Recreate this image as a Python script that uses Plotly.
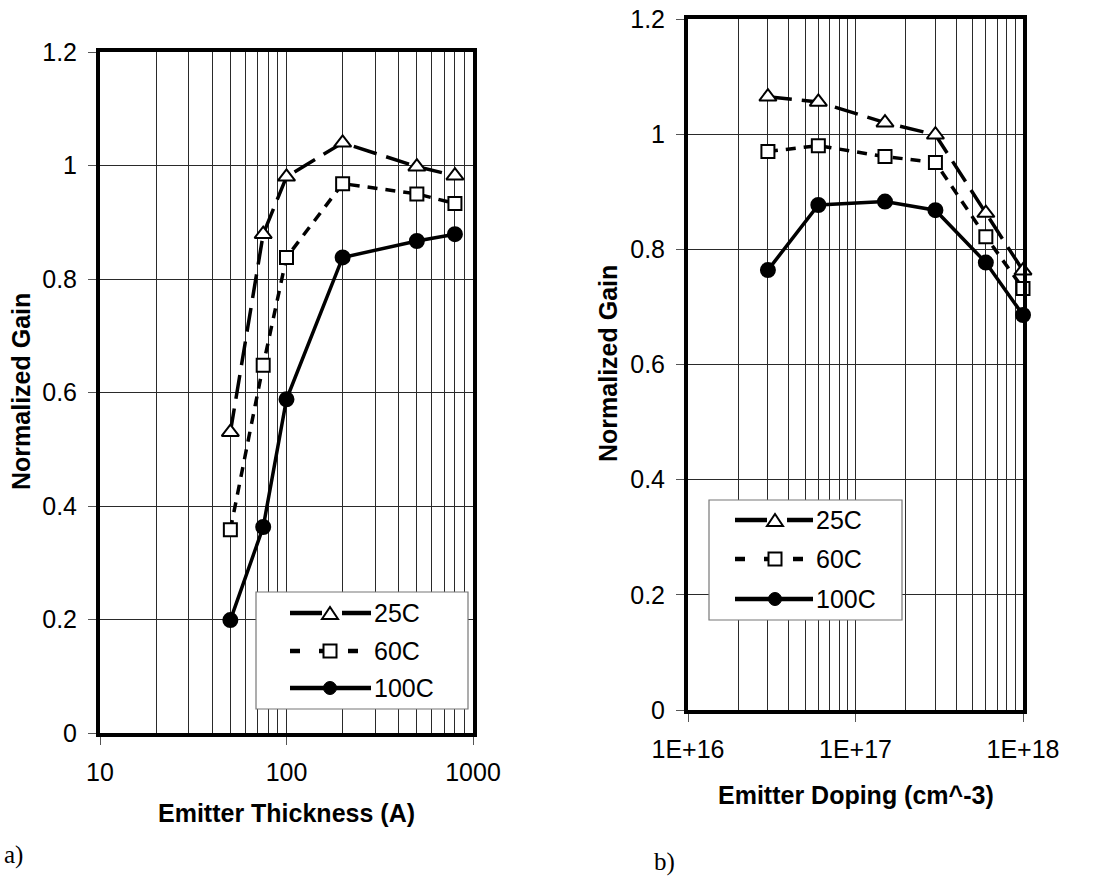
import plotly.graph_objects as go

# ---------------- data ----------------
thickness = [50, 75, 100, 200, 500, 800]
gain_a_25 = [0.530, 0.879, 0.980, 1.040, 0.998, 0.982]
gain_a_60 = [0.358, 0.648, 0.838, 0.968, 0.950, 0.933]
gain_a_100 = [0.199, 0.363, 0.588, 0.838, 0.867, 0.879]

doping = [3e16, 6e16, 1.5e17, 3e17, 6e17, 1e18]
gain_b_25 = [1.065, 1.056, 1.020, 0.999, 0.863, 0.763]
gain_b_60 = [0.970, 0.980, 0.961, 0.951, 0.822, 0.732]
gain_b_100 = [0.764, 0.877, 0.883, 0.868, 0.777, 0.686]

series_names = ["25C", "60C", "100C"]
y_tickvals = [0, 0.2, 0.4, 0.6, 0.8, 1.0, 1.2]
y_ticktext = ["0", "0.2", "0.4", "0.6", "0.8", "1", "1.2"]
a_xtickvals = [10, 100, 1000]
a_xticktext = ["10", "100", "1000"]
b_xtickvals = [1e16, 1e17, 1e18]
b_xticktext = ["1E+16", "1E+17", "1E+18"]

# ---------------- styles ----------------
W, H = 1096, 878
FONT = "Liberation Sans, Arial, sans-serif"
styles = {
    "25C": dict(dash="24px,10px", symbol="triangle-up", size=15, fill="white"),
    "60C": dict(dash="10px,8px", symbol="square", size=13, fill="white"),
    "100C": dict(dash="solid", symbol="circle", size=14, fill="black"),
}


def px(x):
    return x / W


def py(y):
    return 1 - y / H


fig = go.Figure()

panels = [
    ("x", "y", thickness, [gain_a_25, gain_a_60, gain_a_100]),
    ("x2", "y2", doping, [gain_b_25, gain_b_60, gain_b_100]),
]
for xa, ya, xs, ys_list in panels:
    for name, ys in zip(series_names, ys_list):
        st = styles[name]
        fig.add_trace(go.Scatter(
            x=xs, y=ys, xaxis=xa, yaxis=ya, name=name, mode="lines+markers",
            showlegend=False, cliponaxis=False,
            line=dict(color="black", width=3.5, dash=st["dash"]),
            marker=dict(symbol=st["symbol"], size=st["size"], color=st["fill"],
                        line=dict(color="black", width=2)),
        ))

grid_col = "#2a2a2a"
a_minor = [m * 10 ** e for e in (1, 2) for m in range(2, 10)]
b_minor = [m * 10 ** e for e in (16, 17) for m in range(2, 10)]

common_x = dict(type="log", showline=True, linewidth=4, linecolor="black", mirror=True,
                ticks="outside", ticklen=8, tickcolor="#555", tickwidth=1, automargin=False,
                showgrid=True, gridcolor=grid_col, gridwidth=1, zeroline=False,
                ticklabeloverflow="allow",
                tickfont=dict(family=FONT, size=25, color="black"), ticklabelstandoff=6)
common_y = dict(range=[0, 1.2], tickvals=y_tickvals, ticktext=y_ticktext, automargin=False,
                showline=True, linewidth=4, linecolor="black", mirror=True,
                ticks="outside", ticklen=8, tickcolor="#555", tickwidth=1,
                showgrid=True, gridcolor=grid_col, gridwidth=1, zeroline=False,
                ticklabeloverflow="allow",
                tickfont=dict(family=FONT, size=25, color="black"), ticklabelstandoff=6)

fig.update_layout(
    width=W, height=H, margin=dict(l=0, r=0, t=0, b=0, autoexpand=False),
    paper_bgcolor="white", plot_bgcolor="white", showlegend=False,
    xaxis=dict(common_x, domain=[px(100), px(473)], range=[1, 3], anchor="y",
               tickvals=a_xtickvals, ticktext=a_xticktext,
               minor=dict(tickvals=a_minor, showgrid=True, gridcolor=grid_col, gridwidth=1, ticks="")),
    yaxis=dict(common_y, domain=[py(733), py(52)], anchor="x"),
    xaxis2=dict(common_x, domain=[px(688), px(1023)], range=[16, 18], anchor="y2",
                tickvals=b_xtickvals, ticktext=b_xticktext,
                minor=dict(tickvals=b_minor, showgrid=True, gridcolor=grid_col, gridwidth=1, ticks="")),
    yaxis2=dict(common_y, domain=[py(710), py(19)], anchor="x2"),
)

# ---------------- axis titles ----------------
title_font = dict(family=FONT, size=25, color="black")
ann = [
    dict(text="<b>Normalized Gain</b>", x=px(21), y=py(392), textangle=-90),
    dict(text="<b>Emitter Thickness (A)</b>", x=px(286.5), y=py(813)),
    dict(text="<b>Normalized Gain</b>", x=px(608), y=py(364), textangle=-90),
    dict(text="<b>Emitter Doping (cm^-3)</b>", x=px(856), y=py(795)),
]
for a in ann:
    fig.add_annotation(xref="paper", yref="paper", showarrow=False, xanchor="center", yanchor="middle",
                       font=title_font, **a)

# panel labels
fig.add_annotation(text="a)", xref="paper", yref="paper", x=px(2), y=py(855), xanchor="left",
                   yanchor="middle", showarrow=False,
                   font=dict(family="Liberation Serif, Times New Roman, serif", size=25, color="black"))
fig.add_annotation(text="b)", xref="paper", yref="paper", x=px(652), y=py(862), xanchor="left",
                   yanchor="middle", showarrow=False,
                   font=dict(family="Liberation Serif, Times New Roman, serif", size=25, color="black"))


# ---------------- custom legends ----------------
def seg(x0, x1, y, w=4.5):
    fig.add_shape(type="line", xref="paper", yref="paper", x0=px(x0), x1=px(x1), y0=py(y), y1=py(y),
                  line=dict(color="black", width=w))


def triangle(cx, cy, w=16, h=12):
    path = (f"M {px(cx - w / 2)},{py(cy + h / 2)} L {px(cx + w / 2)},{py(cy + h / 2)} "
            f"L {px(cx)},{py(cy - h / 2)} Z")
    fig.add_shape(type="path", xref="paper", yref="paper", path=path,
                  fillcolor="white", line=dict(color="black", width=2))


def square(cx, cy, s=13):
    fig.add_shape(type="rect", xref="paper", yref="paper", x0=px(cx - s / 2), x1=px(cx + s / 2),
                  y0=py(cy + s / 2), y1=py(cy - s / 2), fillcolor="white", line=dict(color="black", width=2))


def circle(cx, cy, s=13):
    fig.add_shape(type="circle", xref="paper", yref="paper", x0=px(cx - s / 2), x1=px(cx + s / 2),
                  y0=py(cy + s / 2), y1=py(cy - s / 2), fillcolor="black", line=dict(color="black", width=1))


def legend(box, x_start, x_end, xm, xt, ys):
    bx0, by0, bx1, by1 = box
    fig.add_shape(type="rect", xref="paper", yref="paper", x0=px(bx0), x1=px(bx1), y0=py(by1), y1=py(by0),
                  fillcolor="white", line=dict(color="#777", width=1.2))
    # 25C
    seg(x_start, xm - 8, ys[0])
    seg(xm + 12, x_end, ys[0])
    triangle(xm, ys[0])
    # 60C
    seg(x_start, x_start + 10, ys[1])
    seg(xm - 11, xm - 5, ys[1])
    seg(xm + 18, xm + 28, ys[1])
    square(xm, ys[1])
    # 100C
    seg(x_start, x_end, ys[2])
    circle(xm, ys[2])
    for name, yy in zip(series_names, ys):
        fig.add_annotation(text=name, xref="paper", yref="paper", x=px(xt), y=py(yy), xanchor="left",
                           yanchor="middle", showarrow=False, font=dict(family=FONT, size=25, color="black"))


legend((256, 592, 468, 709), 290, 371, 330, 372, (613, 651, 688))
legend((709, 500, 902, 620), 735, 813, 775, 814, (520, 559, 599))

fig.write_html("out.html", config={"displayModeBar": False},
               post_script="document.body.style.margin='0px';document.body.style.overflow='hidden';")
